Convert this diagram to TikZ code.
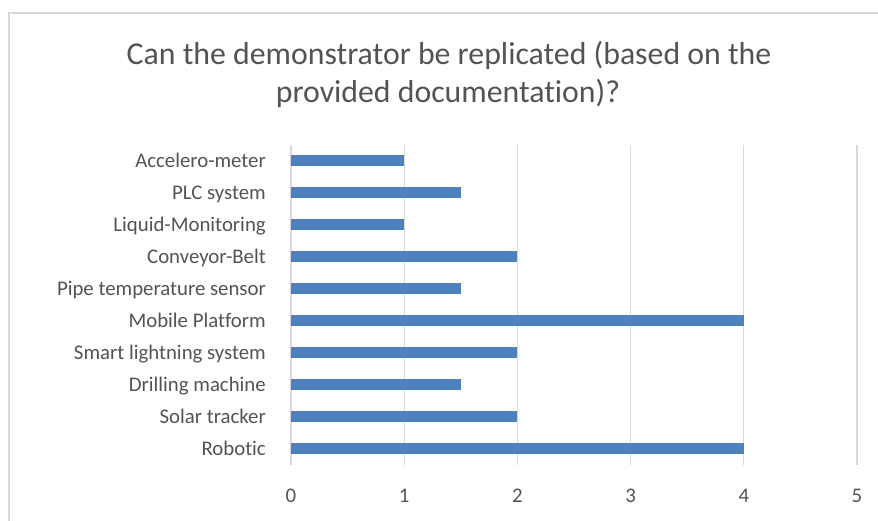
\documentclass[tikz,border=0pt]{standalone}
\usepackage{fontspec}
\setmainfont{Carlito}[Ligatures=CommonOff]
\usetikzlibrary{positioning}
\definecolor{barblue}{HTML}{4F81BD}
\definecolor{gridgray}{HTML}{D9D9D9}
\definecolor{textgray}{HTML}{535353}

\begin{document}
\begin{tikzpicture}[
    x=1pt, y=-1pt,
    bar/.style={fill=barblue, draw=none},
    gridline/.style={draw=gridgray, line width=1.3pt},
    catlabel/.style={anchor=base east, text=textgray, inner sep=0pt, font=\fontsize{20.8}{24}\selectfont},
    ticklabel/.style={anchor=base, text=textgray, inner sep=0pt, font=\fontsize{20.8}{24}\selectfont},
    titleline/.style={anchor=base, text=textgray, inner sep=0pt, font=\fontsize{31.8}{38}\selectfont}
]
\useasboundingbox (0,0) rectangle (878,521);

% Chart frame
\draw[gridline] (9,530) -- (9,13) -- (890,13);

% Title
\node[titleline] (title1) at (449,64.5) {Can the demonstrator be replicated (based on the};
\node[titleline] (title2) at (448,102.5) {provided documentation)?};

% Gridlines and axis values
\foreach \k in {0,...,5} {
  \draw[gridline] (291+113.2*\k,145) -- (291+113.2*\k,465);
  \node[ticklabel] (tick\k) at (291+113.2*\k,502) {\k};
}

% Bars and category labels (top to bottom)
\foreach \name/\val [count=\i from 0] in {Accelero-meter/1, PLC system/1.5, Liquid-Monitoring/1, Conveyor-Belt/2, Pipe temperature sensor/1.5, Mobile Platform\ /4, Smart lightning system/2, Drilling machine/1.5, Solar tracker/2, Robotic/4} {
  \pgfmathsetmacro{\yc}{160.5+32*\i}
  \fill[bar] (291,\yc-5.5) rectangle (291+113.2*\val,\yc+5.5);
  \node[catlabel] (cat\i) at (266,\yc+7) {\name};
}

\end{tikzpicture}
\end{document}
